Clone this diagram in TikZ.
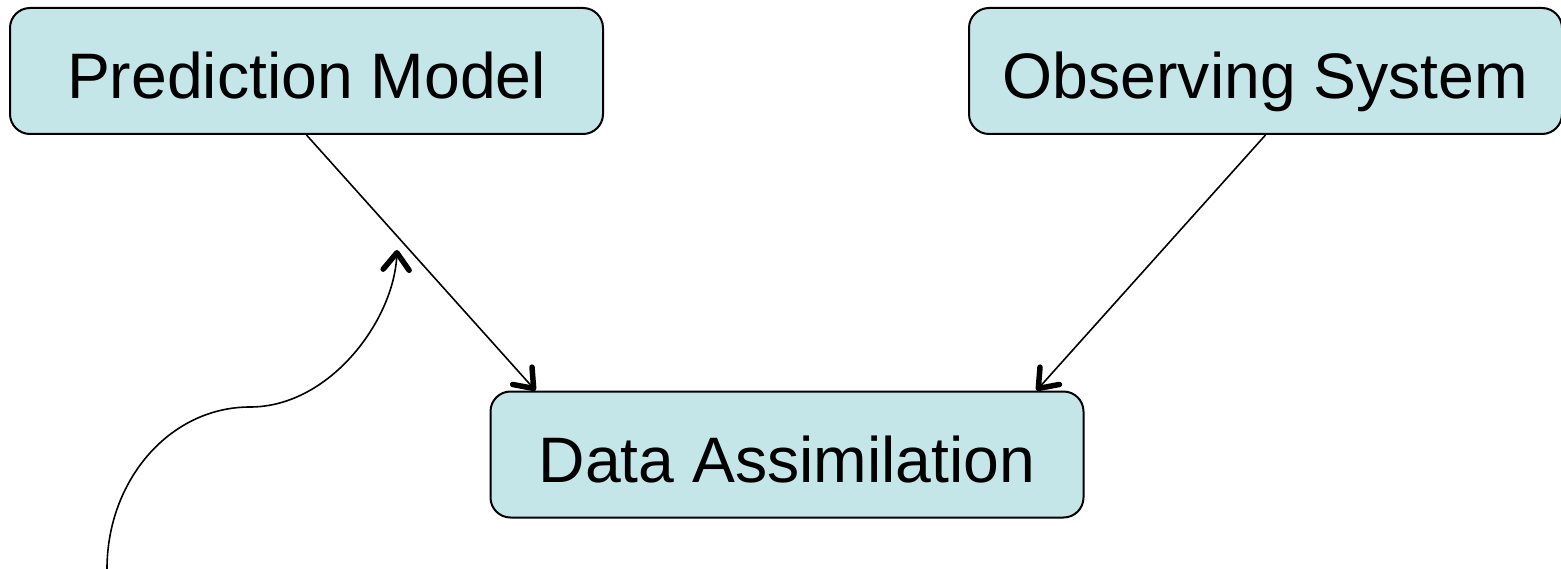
\documentclass[tikz,border=0pt]{standalone}
\usepackage{fontspec}
\setmainfont{Liberation Sans}
\usetikzlibrary{arrows.meta,calc}
\definecolor{boxfill}{HTML}{C4E6E8}
\begin{document}
\begin{tikzpicture}[x=1pt,y=-1pt,
  blockbox/.style={draw=black,line width=2pt,fill=boxfill,rounded corners=20pt,
    minimum width=593pt,minimum height=126pt,inner sep=0pt,
    text height=68pt,text depth=12pt,
    font=\fontsize{64.3}{76}\selectfont},
  link/.style={line width=1.6pt,-{Straight Barb[length=17pt,width=26pt,line width=5.5pt,round]}}]
\useasboundingbox (0,0) rectangle (1561,569);
\node[blockbox] (pm) at (306.5,71) {Prediction Model};
\node[blockbox] (os) at (1265.5,71) {Observing System};
\node[blockbox] (da) at (787,454.5) {Data Assimilation};
\coordinate (daL) at ($(da.north west)+(46,0)$);
\coordinate (daR) at ($(da.north east)+(-48,0)$);
\coordinate (cstart) at (107,569);
\coordinate (cmid) at (250,407);
\coordinate (cend) at (397,250);
\draw[link] (pm.south) -- (daL);
\draw[link] (os.south) -- (daR);
\draw[link] (cstart) .. controls (107,480) and (170,407) .. (cmid)
  .. controls (330,407) and (394,320) .. (cend);
\end{tikzpicture}
\end{document}
